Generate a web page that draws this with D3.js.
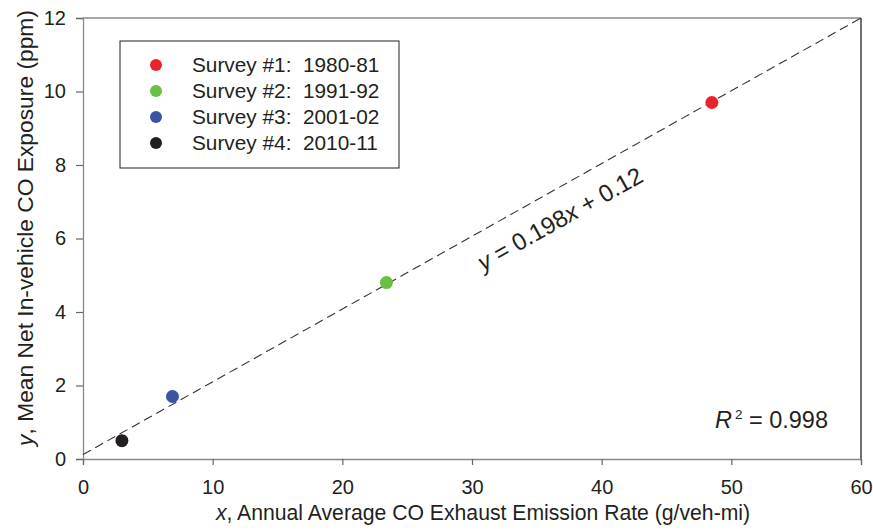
<!DOCTYPE html>
<html><head><meta charset="utf-8">
<script src="https://cdn.jsdelivr.net/npm/d3@7"></script>
<style>body{margin:0;background:#fff}text{font-family:Arial,"Liberation Sans",sans-serif;fill:#231f20}</style>
</head><body><svg id="c" width="873" height="531"></svg>
<script>
const surveys = ["Survey #1:  1980-81","Survey #2:  1991-92","Survey #3:  2001-02","Survey #4:  2010-11"];
const xValues = [48.5, 23.4, 6.9, 3.0];
const yValues = [9.7, 4.8, 1.7, 0.5];
const colors = ["#e8232a","#6abf45","#3a53a4","#231f20"];
const xTicks = [0,10,20,30,40,50,60];
const yTicks = [0,2,4,6,8,10,12];
const slope = 0.198, intercept = 0.12, r2 = "0.998";

const svg = d3.select("#c");
const L=83,R=861,T=18,B=459;
const x = d3.scaleLinear().domain([0,60]).range([L,R]);
const y = d3.scaleLinear().domain([0,12]).range([B,T]);

// frame top/right
svg.append("line").attr("x1",L).attr("x2",R).attr("y1",T).attr("y2",T).attr("stroke","#888").attr("stroke-width",1.3);
svg.append("line").attr("x1",R).attr("x2",R).attr("y1",T).attr("y2",B).attr("stroke","#231f20").attr("stroke-width",1.3);

const xa = svg.append("g").attr("transform",`translate(0,${B})`).call(d3.axisBottom(x).tickValues(xTicks).tickSize(6).tickPadding(15));
const ya = svg.append("g").attr("transform",`translate(${L},0)`).call(d3.axisLeft(y).tickValues(yTicks).tickSize(7).tickPadding(10));
[xa,ya].forEach(a=>{
  a.select(".domain").attr("stroke","#888").attr("stroke-width",1.3);
  a.selectAll(".tick line").attr("stroke","#666").attr("stroke-width",1.2);
  a.selectAll(".tick text").attr("font-size",20).attr("fill","#231f20").style("font-family","Arial,'Liberation Sans',sans-serif");
});

// regression line
svg.append("line").attr("x1",x(0)).attr("y1",y(intercept)).attr("x2",x(60)).attr("y2",y(slope*60+intercept))
  .attr("stroke","#333").attr("stroke-width",1.1).attr("stroke-dasharray","9,5");

// points
svg.selectAll("circle.pt").data(xValues).join("circle").attr("class","pt")
  .attr("cx",(d)=>x(d)).attr("cy",(d,i)=>y(yValues[i])).attr("r",6.5).attr("fill",(d,i)=>colors[i]);

// legend
svg.append("rect").attr("x",120).attr("y",41).attr("width",279).attr("height",127).attr("fill","#fff").attr("stroke","#231f20").attr("stroke-width",1);
surveys.forEach((s,i)=>{
  svg.append("circle").attr("cx",156).attr("cy",65+i*26).attr("r",6).attr("fill",colors[i]);
  svg.append("text").attr("x",192).attr("y",65+i*26).attr("dy","0.36em").attr("font-size",20.8).attr("xml:space","preserve").text(s);
});

// equation
const ang = Math.atan2(y(slope*60+intercept)-y(intercept), x(60)-x(0))*180/Math.PI;
const eq = svg.append("text").attr("transform",`translate(564,226) rotate(${ang})`).attr("text-anchor","middle").attr("font-size",24);
eq.append("tspan").attr("font-style","italic").text("y");
eq.append("tspan").text(" = 0.198");
eq.append("tspan").attr("font-style","italic").text("x");
eq.append("tspan").text(" + 0.12");

// R2
const rt = svg.append("text").attr("x",828).attr("y",428).attr("text-anchor","end").attr("font-size",23.5);
rt.append("tspan").attr("font-style","italic").text("R");
rt.append("tspan").attr("font-size",13.5).attr("dy",-9).attr("dx",3).text("2");
rt.append("tspan").attr("dy",9).text(" = "+r2);

// axis titles
const xt = svg.append("text").attr("x",483).attr("y",520).attr("text-anchor","middle").attr("font-size",21.2);
xt.append("tspan").attr("font-style","italic").text("x");
xt.append("tspan").text(", Annual Average CO Exhaust Emission Rate (g/veh-mi)");
const yt = svg.append("text").attr("transform","translate(33,228) rotate(-90)").attr("text-anchor","middle").attr("font-size",22.8);
yt.append("tspan").attr("font-style","italic").text("y");
yt.append("tspan").text(", Mean Net In-vehicle CO Exposure (ppm)");
</script></body></html>
